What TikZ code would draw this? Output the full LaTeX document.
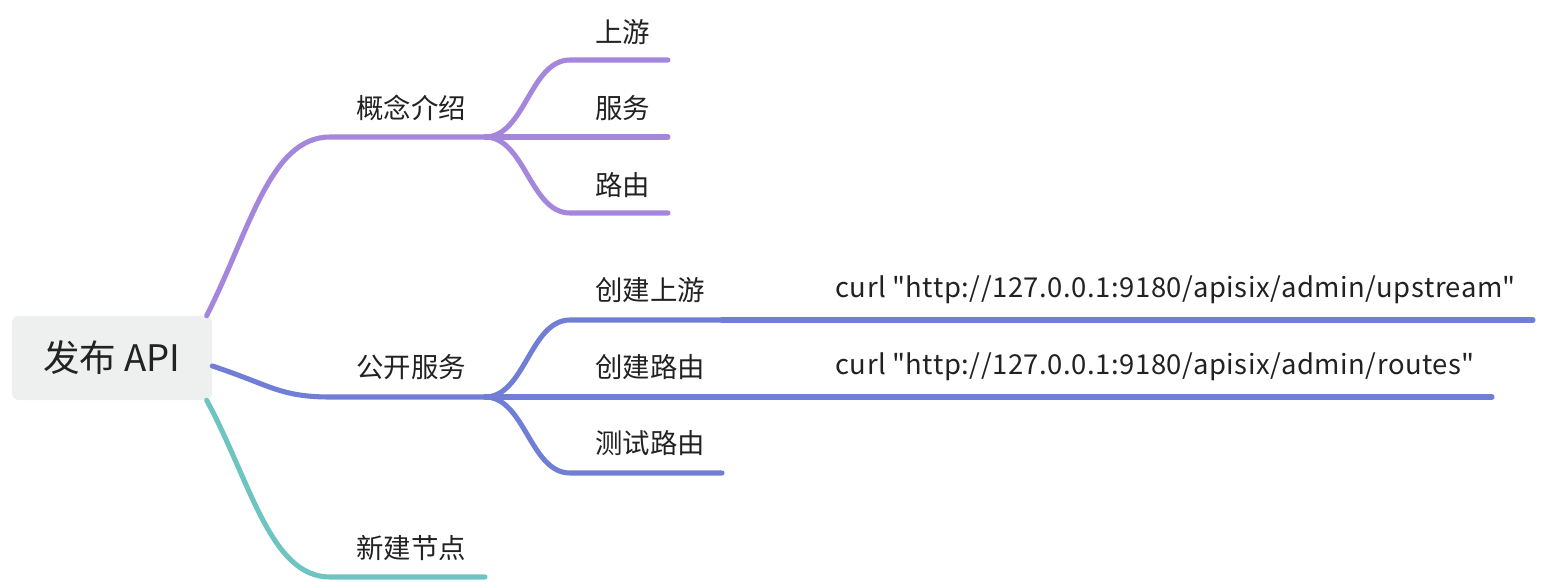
\documentclass[tikz,border=0pt]{standalone}
\usepackage{fontspec}
\setmainfont{Noto Sans CJK SC}
\usetikzlibrary{positioning}
\definecolor{mypurple}{RGB}{164,134,220}
\definecolor{myblue}{RGB}{112,126,214}
\definecolor{myteal}{RGB}{110,196,192}
\definecolor{rootgray}{RGB}{238,240,240}
\definecolor{textgray}{RGB}{34,34,34}

\begin{document}
\begin{tikzpicture}[
      x=0.025cm, y=-0.025cm,
      root/.style={fill=rootgray, rounded corners=4pt, minimum width=5cm,
                   minimum height=2.1cm, text=textgray, font=\fontsize{26}{30}\selectfont},
      topic/.style={inner sep=0pt, anchor=west, text=textgray,
                    font=\fontsize{19.5}{23}\selectfont},
      cmd/.style={topic, font=\fontsize{19.5}{23}\selectfont\addfontfeature{LetterSpace=2}},
      branch/.style={line width=3.6pt, line cap=round, color=#1}
  ]
    \useasboundingbox (0,0) rectangle (1542,582);

    \node[root] (root) at (112,358) {发布 API};

    \node[topic] (concept) at (356,108) {概念介绍};
    \node[topic] (pub)     at (356,367) {公开服务};
    \node[topic] (newnode) at (356,548) {新建节点};

    \node[topic] (up)    at (595,32)  {上游};
    \node[topic] (svc)   at (595,108) {服务};
    \node[topic] (route) at (595,185) {路由};

    \node[topic] (mkup)    at (595,290) {创建上游};
    \node[topic] (mkroute) at (595,367) {创建路由};
    \node[topic] (test)    at (595,443) {测试路由};

    \node[cmd] (curlup)    at (835,290)
      {curl \textquotedbl http://127.0.0.1:9180/apisix/admin/upstream\textquotedbl};
    \node[cmd] (curlroute) at (835,367)
      {curl \textquotedbl http://127.0.0.1:9180/apisix/admin/routes\textquotedbl};

    % line ends under the topics
    \coordinate (concept-s) at (330,137); \coordinate (concept-e) at (485,137);
    \coordinate (pub-s)     at (330,397); \coordinate (pub-e)     at (485,397);
    \coordinate (newnode-s) at (330,577); \coordinate (newnode-e) at (485,577);
    \coordinate (up-s)      at (570,60);  \coordinate (up-e)      at (668,60);
    \coordinate (svc-e)     at (668,137);
    \coordinate (route-s)   at (570,213); \coordinate (route-e)   at (668,213);
    \coordinate (mkup-s)    at (570,320); \coordinate (mkup-e)    at (722,320);
    \coordinate (mkroute-e) at (722,397);
    \coordinate (test-s)    at (570,473); \coordinate (test-e)    at (722,473);
    \coordinate (curlup-e)    at (1533,320);
    \coordinate (curlroute-e) at (1492,397);

    % main branches
    \draw[branch=mypurple] ([xshift=-4pt]root.north east)
      .. controls (250,230) and (270,137) .. (concept-s) -- (concept-e);
    \draw[branch=myblue] ([yshift=-0.2cm]root.east)
      .. controls (270,385) and (280,397) .. (pub-s) -- (pub-e);
    \draw[branch=myteal] ([xshift=-4pt]root.south east)
      .. controls (250,480) and (270,577) .. (newnode-s) -- (newnode-e);

    % sub branches
    \draw[branch=mypurple] (concept-e) .. controls (525,137) and (530,60) .. (up-s) -- (up-e);
    \draw[branch=mypurple] (concept-e) -- (svc-e);
    \draw[branch=mypurple] (concept-e) .. controls (525,137) and (530,213) .. (route-s) -- (route-e);

    \draw[branch=myblue] (pub-e) .. controls (525,397) and (530,320) .. (mkup-s) -- (mkup-e);
    \draw[branch=myblue] (pub-e) -- (mkroute-e);
    \draw[branch=myblue] (pub-e) .. controls (525,397) and (530,473) .. (test-s) -- (test-e);

    \draw[branch=myblue] (mkup-e) -- (curlup-e);
    \draw[branch=myblue] (mkroute-e) -- (curlroute-e);
  \end{tikzpicture}
\end{document}
